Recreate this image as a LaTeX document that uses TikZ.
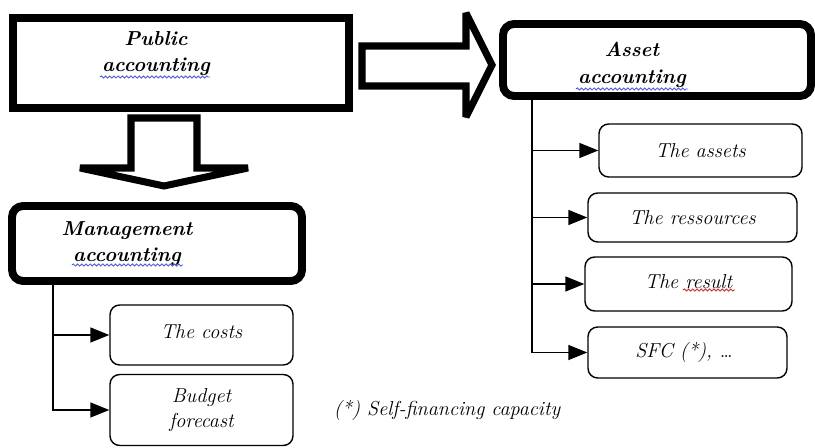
\documentclass[tikz,border=0pt]{standalone}
\usepackage{xcolor}
\usepackage{tikz}
\usetikzlibrary{arrows.meta,decorations.pathmorphing}
\definecolor{spellblue}{HTML}{4A5AE8}
\definecolor{spellred}{HTML}{E02828}

\begin{document}
\begin{tikzpicture}[x=0.02cm, y=-0.02cm,
    headbox/.style={draw, line width=4.5pt, inner sep=0pt},
    subbox/.style={draw, line width=0.8pt, rounded corners=5.5pt, inner sep=0pt,
      align=center, font=\itshape\fontsize{11.5}{14}\selectfont},
    headtxt/.style={align=center, inner sep=0pt,
      font=\bfseries\itshape\fontsize{11.5}{15}\selectfont},
    blockarrow/.style={draw, line width=4pt, miter limit=3},
    branch/.style={line width=0.8pt, -{Triangle[length=0.38cm, width=0.3cm]}},
    spell/.style={line width=0.5pt, decorate,
      decoration={snake, amplitude=0.6pt, segment length=2.4pt}}]
  \useasboundingbox (0,0) rectangle (815,448);

  \node[headbox, minimum width=6.72cm, minimum height=1.8cm] (pub) at (181,63) {};
  \node[headbox, rounded corners=0.22cm, minimum width=6.16cm, minimum height=1.44cm]
    (asset) at (657,60) {};
  \node[headbox, rounded corners=0.22cm, minimum width=5.8cm, minimum height=1.5cm]
    (mgmt) at (157,243.5) {};

  \node[headtxt] (pubtxt) at (156,53.5) {Public\\accounting};
  \node[headtxt] (assettxt) at (632,65) {Asset\\accounting};
  \node[headtxt] (mgmttxt) at (127,243.5) {Management\\accounting};

  \draw[blockarrow] (362,46) -- (466,46) -- (466,13) -- (492,65)
    -- (466,117) -- (466,86) -- (362,86) -- cycle;
  \draw[blockarrow] (131,118) -- (197,118) -- (197,168) -- (248,168)
    -- (164,186) -- (80,168) -- (131,168) -- cycle;

  \node[subbox, minimum width=3.66cm, minimum height=1.2cm] (costs) at (201.5,335)
    {\raisebox{4pt}{The costs}};
  \node[subbox, minimum width=3.66cm, minimum height=1.42cm] (budget) at (201.5,410)
    {Budget\\forecast};

  \foreach \name/\cx/\cy/\w/\h/\txt in {%
    assets/700.5/150.5/4.06/1.06/The assets,
    ressources/692.5/217.5/4.18/0.98/The ressources,
    result/688.5/284/4.14/1.08/{\raisebox{2.5pt}{The result}},
    sfc/687.5/352.5/3.98/1.02/{SFC (*), \ldots}
    } {
    \node[subbox, minimum width=\w cm, minimum height=\h cm] (\name) at (\cx,\cy) {\txt};
  }

  \coordinate (lx) at (53,0);
  \coordinate (rx) at (532,0);
  \draw[branch] (mgmt.south -| lx) |- (budget.west);
  \draw[branch] (costs.west -| lx) -- (costs.west);
  \draw[branch] (asset.south -| rx) |- (sfc.west);
  \foreach \b in {assets,ressources,result}
    \draw[branch] (\b.west -| rx) -- (\b.west);

  \node[subbox, draw=none] (note) at (447,410) {(*) Self-financing capacity};

  \draw[spell, spellblue] (100,77) -- (210,77);
  \draw[spell, spellblue] (576,89) -- (688,89);
  \draw[spell, spellblue] (72,265) -- (183,265);
  \draw[spell, spellred] (683,290) -- (735,290);
\end{tikzpicture}
\end{document}
